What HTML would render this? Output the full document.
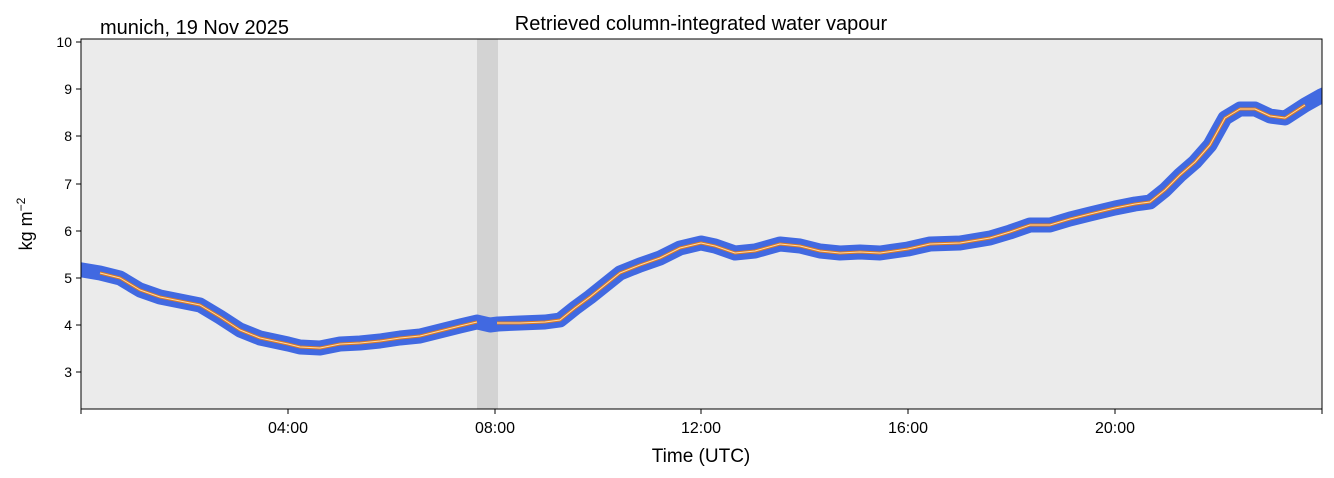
<!DOCTYPE html>
<html><head><meta charset="utf-8"><style>
html,body{margin:0;padding:0;background:#fff;}
svg{display:block;font-family:"Liberation Sans","DejaVu Sans",sans-serif;}
</style></head><body>
<svg width="1334" height="478" viewBox="0 0 1334 478" xmlns="http://www.w3.org/2000/svg">
<defs><clipPath id="c"><rect x="81" y="39" width="1241" height="370"/></clipPath></defs>
<rect x="81" y="39" width="1241" height="370" fill="#ebebeb"/>
<rect x="477" y="39" width="21" height="370" fill="#d3d3d3"/>
<g clip-path="url(#c)">
<polyline fill="none" stroke="#4169e1" stroke-width="15" stroke-linejoin="round" stroke-linecap="round" points="70,268 82,270 100,273 120,278 140,290 160,297 180,301 200,305 220,317 240,330 260,338 288,344 300,347 320,348 340,344 360,343 380,341 400,338 420,336 440,331 460,326 477,322 490,325 498,324 520,323 545,322 560,320 575,308 590,297 605,285 620,273 640,265 660,258 680,248 701,243 715,246 735,253 755,251 780,244 800,246 820,251 840,253 860,252 880,253 908,249 930,244 960,243 990,238 1010,232 1030,225 1050,225 1070,219 1090,214 1115,208 1135,204 1150,202 1165,190 1180,175 1195,162 1210,145 1225,118 1240,109 1255,109 1270,116 1285,118 1305,105 1321,96 1335,90"/>
</g>
<g fill="none" stroke-linejoin="round">
<polyline stroke="#e07b20" stroke-width="3" points="100,273 120,278 140,290 160,297 180,301 200,305 220,317 240,330 260,338 288,344 300,347 320,348 340,344 360,343 380,341 400,338 420,336 440,331 460,326 477,322"/>
<polyline stroke="#e07b20" stroke-width="3" points="497,323 520,323 545,322 560,320 575,308 590,297 605,285 620,273 640,265 660,258 680,248 701,243 715,246 735,253 755,251 780,244 800,246 820,251 840,253 860,252 880,253 908,249 930,244 960,243 990,238 1010,232 1030,225 1050,225 1070,219 1090,214 1115,208 1135,204 1150,202 1165,190 1180,175 1195,162 1210,145 1225,118 1240,109 1255,109 1270,116 1285,118 1305,105"/>
<polyline stroke="#fcd9a8" stroke-width="1" points="100,273 120,278 140,290 160,297 180,301 200,305 220,317 240,330 260,338 288,344 300,347 320,348 340,344 360,343 380,341 400,338 420,336 440,331 460,326 477,322"/>
<polyline stroke="#fcd9a8" stroke-width="1" points="497,323 520,323 545,322 560,320 575,308 590,297 605,285 620,273 640,265 660,258 680,248 701,243 715,246 735,253 755,251 780,244 800,246 820,251 840,253 860,252 880,253 908,249 930,244 960,243 990,238 1010,232 1030,225 1050,225 1070,219 1090,214 1115,208 1135,204 1150,202 1165,190 1180,175 1195,162 1210,145 1225,118 1240,109 1255,109 1270,116 1285,118 1305,105"/>
</g>
<rect x="81" y="39" width="1241" height="370" fill="none" stroke="#000" stroke-width="1"/>
<g stroke="#000" stroke-width="1">
<line x1="76" y1="42" x2="81" y2="42"/><line x1="76" y1="89" x2="81" y2="89"/><line x1="76" y1="136" x2="81" y2="136"/><line x1="76" y1="184" x2="81" y2="184"/><line x1="76" y1="231" x2="81" y2="231"/><line x1="76" y1="278" x2="81" y2="278"/><line x1="76" y1="325" x2="81" y2="325"/><line x1="76" y1="372" x2="81" y2="372"/>
<line x1="81" y1="409" x2="81" y2="414"/><line x1="288" y1="409" x2="288" y2="414"/><line x1="495" y1="409" x2="495" y2="414"/><line x1="701" y1="409" x2="701" y2="414"/><line x1="908" y1="409" x2="908" y2="414"/><line x1="1115" y1="409" x2="1115" y2="414"/><line x1="1322" y1="409" x2="1322" y2="414"/>
</g>
<g font-size="14" text-anchor="end" fill="#000">
<text x="72" y="47">10</text><text x="72" y="94">9</text><text x="72" y="141">8</text><text x="72" y="189">7</text><text x="72" y="236">6</text><text x="72" y="283">5</text><text x="72" y="330">4</text><text x="72" y="377">3</text>
</g>
<g font-size="16" text-anchor="middle" fill="#000">
<text x="288" y="433">04:00</text><text x="495" y="433">08:00</text><text x="701" y="433">12:00</text><text x="908" y="433">16:00</text><text x="1115" y="433">20:00</text>
<text x="701" y="462" font-size="19">Time (UTC)</text>
<text x="701" y="30" font-size="20">Retrieved column-integrated water vapour</text>
</g>
<text x="100" y="34" font-size="20">munich, 19 Nov 2025</text>
<text transform="translate(32,224) rotate(-90)" font-size="18" text-anchor="middle">kg m<tspan dy="-7" font-size="12">−2</tspan></text>
</svg>
</body></html>
